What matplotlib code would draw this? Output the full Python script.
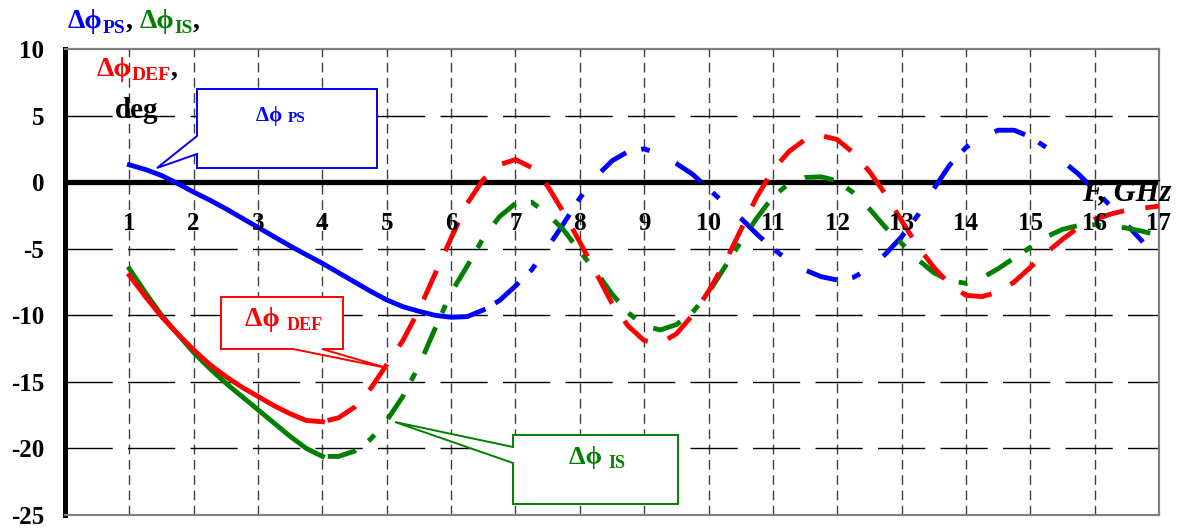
import matplotlib
matplotlib.use("Agg")
import matplotlib.pyplot as plt
from matplotlib.patches import Polygon

# frequency grid, GHz
freq = [1.0, 1.25, 1.5, 1.75, 2.0, 2.25, 2.5, 2.75, 3.0, 3.25, 3.5, 3.75,
        4.0, 4.25, 4.5, 4.75, 5.0, 5.25, 5.5, 5.75, 6.0, 6.25, 6.5, 6.75,
        7.0, 7.25, 7.5, 7.75, 8.0, 8.25, 8.5, 8.75, 9.0, 9.25, 9.5, 9.75,
        10.0, 10.25, 10.5, 10.75, 11.0, 11.25, 11.5, 11.75, 12.0, 12.25, 12.5, 12.75,
        13.0, 13.25, 13.5, 13.75, 14.0, 14.25, 14.5, 14.75, 15.0, 15.25, 15.5, 15.75,
        16.0, 16.25, 16.5, 16.75, 17.0]

# phase errors, deg
dphi_ps = [1.3, 0.95, 0.5, -0.1, -0.75, -1.35, -2.0, -2.7, -3.4, -4.1, -4.8, -5.45,
           -6.1, -6.8, -7.5, -8.2, -8.85, -9.35, -9.7, -10.0, -10.15, -10.1, -9.6, -8.9,
           -7.8, -6.6, -4.9, -3.1, -1.2, 0.4, 1.6, 2.3, 2.5, 2.1, 1.4, 0.6,
           -0.5, -1.6, -2.7, -3.9, -5.0, -5.9, -6.6, -7.1, -7.35, -7.15, -6.5, -5.4,
           -4.1, -2.5, -0.5, 1.3, 2.6, 3.4, 3.9, 3.9, 3.4, 2.6, 1.6, 0.6,
           -0.6, -1.8, -3.2, -4.5]
dphi_def = [-7.0, -8.6, -10.1, -11.4, -12.6, -13.7, -14.6, -15.4, -16.1, -16.8, -17.4, -17.9,
            -18.0, -17.7, -16.9, -15.5, -13.7, -11.9, -9.6, -6.9, -4.2, -1.6, 0.2, 1.3,
            1.7, 1.1, -0.3, -2.3, -4.5, -6.8, -9.1, -10.8, -11.9, -12.1, -11.4, -10.0,
            -8.2, -6.1, -3.6, -1.1, 0.9, 2.3, 3.2, 3.5, 3.2, 2.2, 0.8, -0.9,
            -2.9, -4.8, -6.4, -7.7, -8.5, -8.6, -8.25, -7.5, -6.4, -5.3, -4.3, -3.4,
            -2.8, -2.4, -2.1, -1.95, -1.8]
dphi_is = [-6.5, -8.3, -10.0, -11.4, -12.8, -14.0, -15.1, -16.1, -17.1, -18.1, -19.1, -20.0,
           -20.6, -20.6, -20.2, -19.3, -17.9, -16.1, -13.8, -11.0, -8.3, -6.3, -4.2, -2.6,
           -1.6, -1.5, -2.4, -3.6, -5.2, -6.7, -8.4, -9.8, -10.8, -11.1, -10.7, -9.8,
           -8.3, -6.4, -4.5, -2.7, -1.1, -0.1, 0.35, 0.4, 0.1, -0.8, -2.0, -3.4,
           -4.6, -5.8, -6.8, -7.4, -7.6, -7.2, -6.5, -5.7, -4.9, -4.1, -3.55, -3.25,
           -3.2, -3.3, -3.45, -3.7, -4.0]

# index where the solid part of each curve ends
solid_end_ps = 22
solid_end_def = 12
solid_end_is = 12

xtick_vals = list(range(1, 18))
ytick_vals = [10, 5, 0, -5, -10, -15, -20, -25]
hgrid_vals = [5, -5, -10, -15, -20]
vgrid_vals = list(range(1, 17))

BLUE = "#0000ff"
RED = "#ff0000"
GREEN = "#008000"
SERIF = ["Liberation Serif", "DejaVu Serif"]

W, H = 1194, 528
fig = plt.figure(figsize=(W / 100, H / 100), dpi=100)
ax = fig.add_axes([65 / W, 1 - 515 / H, (1159 - 65) / W, (515 - 49) / H])
ax.set_xlim(0, 17)
ax.set_ylim(-25, 10)
renderer = fig.canvas.get_renderer()


def fp(px, py):
    # pixel position in the picture -> figure fraction
    return px / W, 1 - py / H


def text_run(px, py, parts, zorder=3):
    # draw pieces of text one after another on a common baseline
    for s, color, fs, dy in parts:
        x, y = fp(px, py + dy)
        t = fig.text(x, y, s, color=color, fontsize=fs, fontweight="bold",
                     family=SERIF, ha="left", va="baseline", zorder=zorder)
        px += t.get_window_extent(renderer).width


# grid
for v in vgrid_vals:
    ax.axvline(v, color="#404040", lw=1.0, dashes=(7, 4), zorder=1)
for v in hgrid_vals:
    ax.axhline(v, color="black", lw=1.0, dashes=(34, 11), zorder=1)
ax.axhline(0, color="black", lw=3.8, zorder=2)

# curves: solid start, dashed rest
lw = 3.5
ax.plot(freq[:solid_end_ps + 1], dphi_ps[:solid_end_ps + 1], color=BLUE, lw=lw, zorder=3)
ax.plot(freq[solid_end_ps:len(dphi_ps)], dphi_ps[solid_end_ps:], color=BLUE, lw=lw, zorder=3,
        dashes=(0, 2.8, 6.5, 3.2, 1.8, 3.2), dash_capstyle="butt")
ax.plot(freq[:solid_end_is + 1], dphi_is[:solid_end_is + 1], color=GREEN, lw=lw, zorder=4)
ax.plot(freq[solid_end_is:], dphi_is[solid_end_is:], color=GREEN, lw=lw, zorder=4,
        dashes=(0, 1.1, 6.0, 3.2, 1.8, 3.2), dash_capstyle="butt")
ax.plot(freq[:solid_end_def + 1], dphi_def[:solid_end_def + 1], color=RED, lw=lw, zorder=5)
ax.plot(freq[solid_end_def:], dphi_def[solid_end_def:], color=RED, lw=lw, zorder=5,
        dashes=(0, 1.1, 6.5, 3.3), dash_capstyle="butt")

# axes frame
for side in ["top", "right", "bottom"]:
    ax.spines[side].set_color("#808080")
    ax.spines[side].set_linewidth(1.6)
ax.spines["left"].set_color("black")
ax.spines["left"].set_linewidth(3.6)

ax.set_xticks([])
ax.set_yticks(ytick_vals)
ax.set_yticklabels([str(v) for v in ytick_vals], family=SERIF, fontsize=18,
                   fontweight="bold")
ax.tick_params(axis="y", length=0, pad=15)

for v in xtick_vals:
    ax.text(v, -3.62, str(v), ha="center", va="baseline", family=SERIF,
            fontsize=18, fontweight="bold", zorder=6)
ax.text(15.81, -1.36, "F, GHz", ha="left", va="baseline", family=SERIF,
        fontsize=22, fontweight="bold", style="italic", zorder=6, clip_on=False)

# axis title at top-left
text_run(68, 28, [("Δϕ", BLUE, 20, 0), ("PS", BLUE, 14, 5), (", ", "black", 20, 0),
                  ("Δϕ", GREEN, 20, 0), ("IS", GREEN, 14, 5), (",", "black", 20, 0)])
text_run(97, 76, [("Δϕ", RED, 20, 0), ("DEF", RED, 14, 4), (",", "black", 20, 0)])
text_run(115, 118, [("deg", "black", 21, 0)])

# callouts
callouts = [
    (BLUE, [(197, 89), (377, 89), (377, 168), (197, 168), (197, 154), (157, 168), (197, 136)],
     (256, 121), [("Δϕ ", 15, 0), ("PS", 11, 1)]),
    (RED, [(221, 297), (343, 297), (343, 349), (322, 349), (387, 368), (293, 349), (221, 349)],
     (245, 326), [("Δϕ ", 20, 0), ("DEF", 13, 4)]),
    (GREEN, [(513, 435), (678, 435), (678, 504), (513, 504), (513, 463), (395, 422), (513, 447)],
     (569, 464), [("Δϕ ", 19, 0), ("IS", 13, 4)]),
]
for color, verts, (tx, ty), parts in callouts:
    poly = Polygon([fp(px, py) for px, py in verts], closed=True, facecolor="white",
                   edgecolor=color, lw=1.4, transform=fig.transFigure, zorder=10)
    fig.add_artist(poly)
    text_run(tx, ty, [(s, color, fs, dy) for s, fs, dy in parts], zorder=11)

fig.savefig("out.png", dpi=100)
